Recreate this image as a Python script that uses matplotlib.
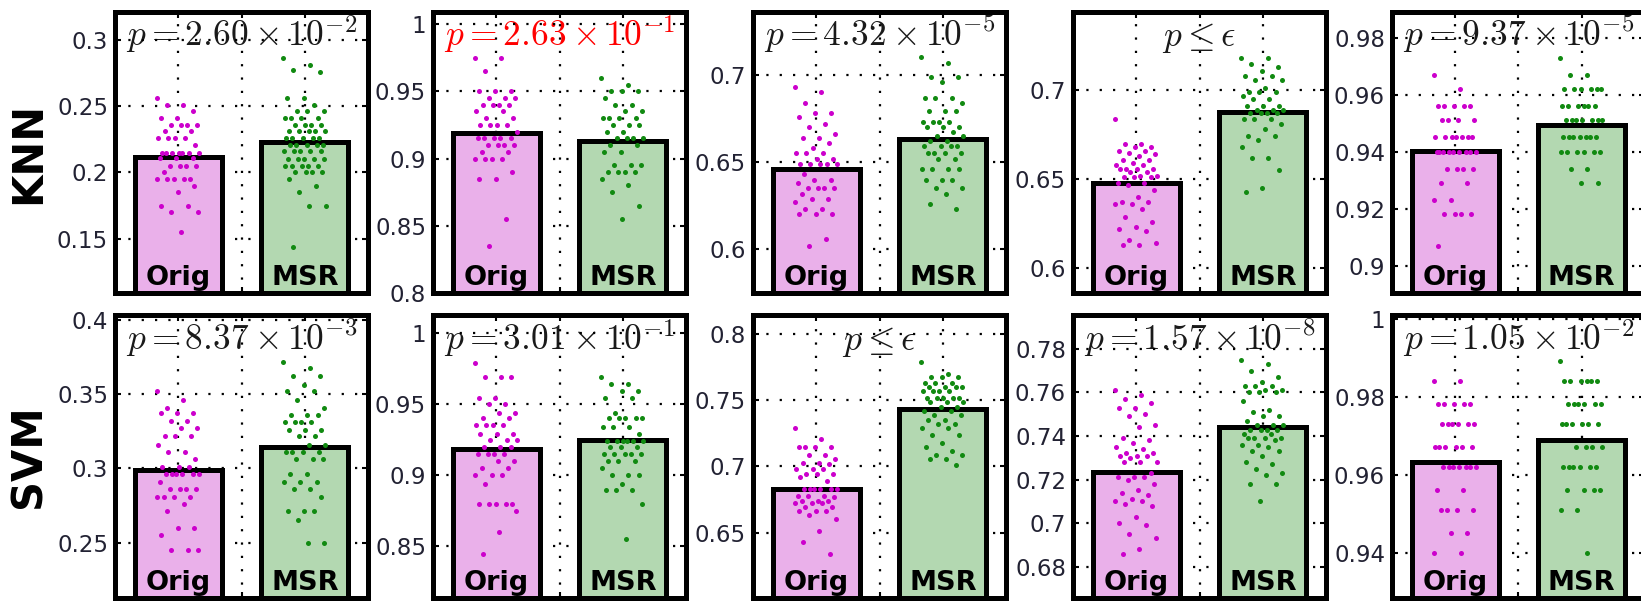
import matplotlib
matplotlib.use('Agg')
import matplotlib.pyplot as plt
import matplotlib.transforms as mtransforms
import numpy as np
from matplotlib.ticker import MultipleLocator, FuncFormatter

plt.rcParams['mathtext.fontset'] = 'cm'
plt.rcParams['font.family'] = ['DejaVu Sans']

groups = ['Orig', 'MSR']
classifiers = ['KNN', 'SVM']

# per-run accuracies, five datasets per classifier
knn_orig = [
    [0.256, 0.251, 0.251, 0.246, 0.241, 0.241, 0.236, 0.236, 0.236, 0.236, 0.231, 0.231,
     0.226, 0.226, 0.226, 0.226, 0.221, 0.215, 0.215, 0.215, 0.215, 0.215, 0.215, 0.215,
     0.211, 0.211, 0.211, 0.205, 0.205, 0.205, 0.205, 0.200, 0.195, 0.195, 0.195, 0.195,
     0.195, 0.190, 0.185, 0.175, 0.175, 0.170, 0.170, 0.155],
    [0.975, 0.975, 0.965, 0.950, 0.950, 0.950, 0.945, 0.945, 0.945, 0.940, 0.940, 0.940,
     0.940, 0.935, 0.935, 0.930, 0.930, 0.925, 0.925, 0.925, 0.925, 0.920, 0.915, 0.915,
     0.915, 0.915, 0.915, 0.910, 0.910, 0.910, 0.910, 0.905, 0.905, 0.900, 0.900, 0.900,
     0.900, 0.890, 0.885, 0.885, 0.855, 0.835],
    [0.693, 0.690, 0.684, 0.678, 0.678, 0.676, 0.672, 0.670, 0.666, 0.664, 0.664, 0.661,
     0.658, 0.655, 0.655, 0.655, 0.652, 0.652, 0.649, 0.649, 0.649, 0.649, 0.649, 0.643,
     0.640, 0.640, 0.638, 0.635, 0.635, 0.635, 0.635, 0.632, 0.629, 0.629, 0.627, 0.623,
     0.623, 0.620, 0.620, 0.620, 0.606, 0.602],
    [0.684, 0.670, 0.670, 0.668, 0.668, 0.666, 0.666, 0.665, 0.664, 0.663, 0.661, 0.661,
     0.659, 0.658, 0.658, 0.656, 0.656, 0.656, 0.656, 0.654, 0.654, 0.652, 0.652, 0.651,
     0.651, 0.651, 0.648, 0.648, 0.647, 0.644, 0.640, 0.637, 0.637, 0.636, 0.636, 0.633,
     0.629, 0.626, 0.623, 0.622, 0.621, 0.616, 0.614, 0.613, 0.613],
    [0.967, 0.962, 0.956, 0.956, 0.956, 0.956, 0.956, 0.951, 0.951, 0.951, 0.951, 0.945,
     0.945, 0.945, 0.945, 0.945, 0.945, 0.945, 0.940, 0.940, 0.940, 0.940, 0.940, 0.940,
     0.940, 0.940, 0.940, 0.934, 0.934, 0.934, 0.934, 0.929, 0.929, 0.923, 0.923, 0.918,
     0.918, 0.918, 0.918, 0.907],
]
knn_msr = [
    [0.286, 0.281, 0.277, 0.276, 0.256, 0.256, 0.251, 0.246, 0.246, 0.246, 0.241, 0.241,
     0.241, 0.241, 0.236, 0.236, 0.236, 0.236, 0.231, 0.231, 0.231, 0.231, 0.231, 0.226,
     0.226, 0.226, 0.226, 0.226, 0.221, 0.221, 0.221, 0.221, 0.221, 0.216, 0.216, 0.216,
     0.216, 0.216, 0.210, 0.210, 0.210, 0.210, 0.210, 0.205, 0.205, 0.205, 0.205, 0.205,
     0.200, 0.200, 0.200, 0.200, 0.195, 0.190, 0.185, 0.175, 0.175, 0.144],
    [0.960, 0.955, 0.950, 0.950, 0.950, 0.945, 0.940, 0.940, 0.935, 0.935, 0.930, 0.930,
     0.930, 0.930, 0.925, 0.925, 0.925, 0.920, 0.920, 0.915, 0.915, 0.915, 0.915, 0.910,
     0.910, 0.905, 0.905, 0.895, 0.895, 0.895, 0.890, 0.890, 0.890, 0.890, 0.885, 0.880,
     0.875, 0.865, 0.855],
    [0.710, 0.707, 0.699, 0.699, 0.696, 0.687, 0.687, 0.687, 0.684, 0.679, 0.679, 0.679,
     0.673, 0.673, 0.673, 0.673, 0.670, 0.670, 0.670, 0.667, 0.665, 0.665, 0.662, 0.662,
     0.659, 0.659, 0.659, 0.659, 0.655, 0.655, 0.655, 0.655, 0.652, 0.652, 0.646, 0.646,
     0.646, 0.646, 0.640, 0.640, 0.640, 0.635, 0.635, 0.632, 0.626, 0.623],
    [0.718, 0.718, 0.715, 0.713, 0.711, 0.708, 0.708, 0.706, 0.706, 0.701, 0.699, 0.699,
     0.699, 0.697, 0.695, 0.695, 0.691, 0.691, 0.691, 0.689, 0.689, 0.689, 0.687, 0.687,
     0.687, 0.687, 0.684, 0.684, 0.684, 0.681, 0.678, 0.674, 0.674, 0.672, 0.668, 0.662,
     0.662, 0.655, 0.645, 0.643],
    [0.973, 0.967, 0.967, 0.962, 0.962, 0.962, 0.962, 0.962, 0.962, 0.956, 0.956, 0.956,
     0.956, 0.956, 0.956, 0.951, 0.951, 0.951, 0.951, 0.951, 0.951, 0.951, 0.945, 0.945,
     0.945, 0.945, 0.945, 0.945, 0.945, 0.940, 0.940, 0.940, 0.940, 0.940, 0.940, 0.934,
     0.934, 0.929, 0.929],
]
svm_orig = [
    [0.352, 0.346, 0.341, 0.337, 0.337, 0.337, 0.332, 0.332, 0.327, 0.327, 0.322, 0.322,
     0.322, 0.316, 0.311, 0.311, 0.306, 0.301, 0.301, 0.301, 0.296, 0.296, 0.296, 0.296,
     0.296, 0.296, 0.291, 0.286, 0.286, 0.286, 0.286, 0.281, 0.281, 0.281, 0.281, 0.276,
     0.271, 0.260, 0.260, 0.255, 0.245, 0.245, 0.245],
    [0.979, 0.969, 0.969, 0.969, 0.954, 0.954, 0.950, 0.950, 0.944, 0.944, 0.940, 0.940,
     0.935, 0.935, 0.935, 0.935, 0.929, 0.929, 0.929, 0.925, 0.925, 0.925, 0.920, 0.920,
     0.920, 0.915, 0.915, 0.915, 0.915, 0.910, 0.910, 0.905, 0.905, 0.900, 0.900, 0.900,
     0.894, 0.880, 0.880, 0.880, 0.880, 0.880, 0.875, 0.860, 0.845],
    [0.729, 0.721, 0.715, 0.715, 0.715, 0.715, 0.709, 0.709, 0.706, 0.703, 0.703, 0.702,
     0.698, 0.698, 0.698, 0.694, 0.694, 0.694, 0.692, 0.689, 0.683, 0.683, 0.683, 0.683,
     0.683, 0.683, 0.678, 0.678, 0.678, 0.677, 0.674, 0.674, 0.674, 0.672, 0.672, 0.672,
     0.669, 0.669, 0.666, 0.666, 0.666, 0.663, 0.660, 0.651, 0.643, 0.634],
    [0.761, 0.759, 0.757, 0.755, 0.753, 0.753, 0.750, 0.749, 0.745, 0.744, 0.739, 0.738,
     0.737, 0.735, 0.734, 0.732, 0.732, 0.731, 0.731, 0.731, 0.730, 0.728, 0.728, 0.728,
     0.723, 0.721, 0.721, 0.721, 0.720, 0.718, 0.715, 0.714, 0.713, 0.711, 0.710, 0.710,
     0.709, 0.708, 0.703, 0.700, 0.699, 0.695, 0.693, 0.688, 0.686],
    [0.984, 0.984, 0.978, 0.978, 0.978, 0.978, 0.978, 0.973, 0.973, 0.973, 0.973, 0.973,
     0.973, 0.967, 0.967, 0.967, 0.967, 0.967, 0.967, 0.962, 0.962, 0.962, 0.962, 0.962,
     0.962, 0.962, 0.956, 0.956, 0.951, 0.951, 0.951, 0.951, 0.945, 0.945, 0.940, 0.940],
]
svm_msr = [
    [0.372, 0.368, 0.362, 0.362, 0.356, 0.352, 0.352, 0.346, 0.341, 0.336, 0.336, 0.336,
     0.331, 0.331, 0.331, 0.331, 0.326, 0.326, 0.326, 0.322, 0.322, 0.316, 0.316, 0.311,
     0.311, 0.311, 0.311, 0.306, 0.306, 0.306, 0.296, 0.296, 0.291, 0.291, 0.291, 0.286,
     0.286, 0.281, 0.271, 0.271, 0.271, 0.265, 0.250, 0.250],
    [0.969, 0.964, 0.964, 0.959, 0.959, 0.954, 0.954, 0.944, 0.940, 0.940, 0.940, 0.940,
     0.940, 0.934, 0.934, 0.934, 0.929, 0.924, 0.924, 0.924, 0.924, 0.924, 0.924, 0.920,
     0.920, 0.920, 0.915, 0.915, 0.915, 0.915, 0.915, 0.910, 0.910, 0.910, 0.905, 0.900,
     0.900, 0.900, 0.894, 0.890, 0.890, 0.890, 0.880, 0.855],
    [0.779, 0.770, 0.768, 0.768, 0.768, 0.763, 0.763, 0.763, 0.760, 0.760, 0.760, 0.760,
     0.757, 0.757, 0.757, 0.757, 0.752, 0.752, 0.752, 0.752, 0.752, 0.749, 0.749, 0.749,
     0.745, 0.745, 0.742, 0.742, 0.739, 0.739, 0.735, 0.735, 0.732, 0.732, 0.729, 0.729,
     0.724, 0.724, 0.718, 0.715, 0.712, 0.709, 0.709, 0.706, 0.706, 0.701],
    [0.775, 0.773, 0.770, 0.767, 0.765, 0.763, 0.763, 0.763, 0.761, 0.761, 0.760, 0.760,
     0.760, 0.756, 0.752, 0.751, 0.749, 0.749, 0.747, 0.745, 0.745, 0.745, 0.743, 0.743,
     0.743, 0.743, 0.741, 0.741, 0.739, 0.739, 0.739, 0.739, 0.738, 0.736, 0.736, 0.735,
     0.733, 0.733, 0.731, 0.728, 0.727, 0.725, 0.723, 0.722, 0.718, 0.718, 0.710],
    [0.989, 0.984, 0.984, 0.984, 0.984, 0.984, 0.984, 0.978, 0.978, 0.978, 0.978, 0.978,
     0.978, 0.973, 0.973, 0.973, 0.973, 0.973, 0.973, 0.967, 0.967, 0.967, 0.967, 0.962,
     0.962, 0.962, 0.962, 0.962, 0.962, 0.956, 0.956, 0.956, 0.956, 0.951, 0.951, 0.940],
]

# mean accuracy (bar heights)
knn_orig_mean = [0.2113, 0.9190, 0.6458, 0.6481, 0.9402]
knn_msr_mean = [0.2226, 0.9129, 0.6634, 0.6875, 0.9493]
svm_orig_mean = [0.2990, 0.9186, 0.6831, 0.7234, 0.9633]
svm_msr_mean = [0.3143, 0.9245, 0.7436, 0.7441, 0.9690]

knn_pvals = [r'$p = 2.60 \times 10^{-2}$', r'$p = 2.63 \times 10^{-1}$',
             r'$p = 4.32 \times 10^{-5}$', r'$p \leq \epsilon$',
             r'$p = 9.37 \times 10^{-5}$']
svm_pvals = [r'$p = 8.37 \times 10^{-3}$', r'$p = 3.01 \times 10^{-1}$',
             r'$p \leq \epsilon$', r'$p = 1.57 \times 10^{-8}$',
             r'$p = 1.05 \times 10^{-2}$']
knn_pcolors = ['#1a1a1a', '#ff0000', '#1a1a1a', '#1a1a1a', '#1a1a1a']
svm_pcolors = ['#1a1a1a'] * 5

# axis ranges and tick spacing for each panel
knn_ylims = [(0.109, 0.321), (0.800, 1.009), (0.575, 0.736), (0.586, 0.744), (0.8904, 0.989)]
svm_ylims = [(0.2126, 0.4034), (0.8138, 1.0126), (0.6005, 0.8146), (0.6656, 0.7956), (0.9284, 1.0009)]
knn_steps = [0.05, 0.05, 0.05, 0.05, 0.02]
svm_steps = [0.05, 0.05, 0.05, 0.02, 0.02]

W, H = 1641, 607
col_left = [115, 433, 753, 1073, 1392]
ax_w = 253
row_top = [12, 315]
row_bottom = [293, 598]

bar_colors = ['#eab0ea', '#b3d8b1']
dot_colors = ['#cc00cc', '#118a11']
frame_lw = 3.6


def draw_panel(ax, orig, msr, orig_mean, msr_mean, ptext, pcolor, ylim, step):
    ax.set_xlim(0.5, 2.5)
    ax.set_ylim(*ylim)
    ax.set_axisbelow(True)

    ax.bar([1, 2], [orig_mean, msr_mean], width=0.69, color=bar_colors,
           edgecolor='black', linewidth=frame_lw, zorder=1)

    for x, vals, c in zip([1, 2], [orig, msr], dot_colors):
        vals = np.asarray(vals)
        jit = ((np.arange(len(vals)) * 0.618034) % 1.0 - 0.5) * 0.34
        ax.scatter(x + jit, vals, s=13, c=c, linewidths=0, zorder=2)

    ax.set_xticks([0.5, 1, 1.5, 2, 2.5])
    ax.yaxis.set_major_locator(MultipleLocator(step))
    ax.yaxis.set_major_formatter(FuncFormatter(lambda v, pos: f'{round(v, 4):g}'))
    ax.grid(True, color='black', linestyle=(0, (1, 5)), linewidth=1.6)

    ax.tick_params(axis='x', direction='in', top=True, bottom=True, length=4,
                   width=1.5, labelbottom=False)
    ax.tick_params(axis='y', direction='in', left=True, right=True, length=4,
                   width=1.5, labelsize=16.5, pad=5, labelcolor='#222233')
    for sp in ax.spines.values():
        sp.set_linewidth(frame_lw)

    ax.text(0.5, 0.878, ptext, transform=ax.transAxes, ha='center', va='baseline',
            fontsize=25.5, color=pcolor, zorder=0.4)

    trans = mtransforms.blended_transform_factory(ax.transData, ax.transAxes)
    for x, name in zip([1, 2], groups):
        ax.text(x, 0.03, name, transform=trans, ha='center', va='baseline',
                fontsize=19.5, fontweight='bold', color='black', zorder=3)


fig = plt.figure(figsize=(W / 100, H / 100), dpi=100)

rows = [
    (knn_orig, knn_msr, knn_orig_mean, knn_msr_mean, knn_pvals, knn_pcolors, knn_ylims, knn_steps),
    (svm_orig, svm_msr, svm_orig_mean, svm_msr_mean, svm_pvals, svm_pcolors, svm_ylims, svm_steps),
]

for r, (orig, msr, om, mm, pv, pc, yl, st) in enumerate(rows):
    top, bottom = row_top[r], row_bottom[r]
    for c in range(5):
        ax = fig.add_axes([col_left[c] / W, 1 - bottom / H, ax_w / W, (bottom - top) / H])
        draw_panel(ax, orig[c], msr[c], om[c], mm[c], pv[c], pc[c], yl[c], st[c])
    fig.text(28 / W, 1 - (top + bottom) / 2 / H, classifiers[r], rotation=90,
             ha='center', va='center', fontsize=30, fontweight='bold')

fig.savefig('out.png', dpi=100)
